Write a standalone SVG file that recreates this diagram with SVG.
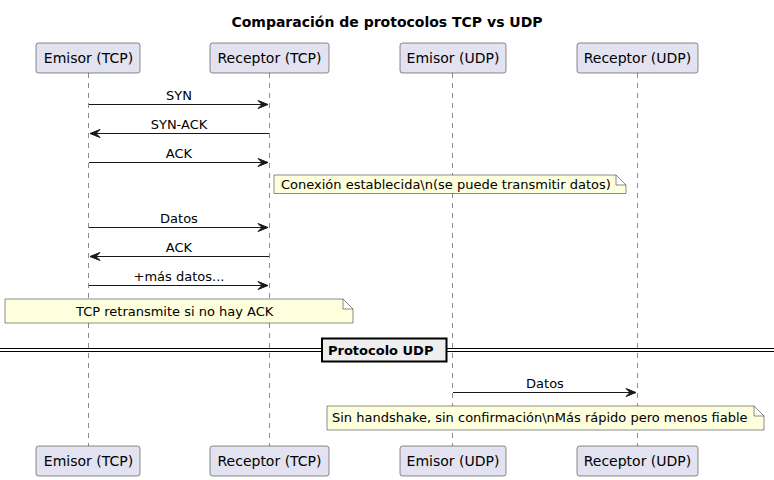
<svg xmlns="http://www.w3.org/2000/svg" width="774" height="480" viewBox="0 0 774 480">
<style>
text{font-family:"DejaVu Sans","Liberation Sans",sans-serif;fill:#000}
.title{font-size:14px;font-weight:bold}
.p rect{fill:#E2E2F0;stroke:#181818;stroke-width:0.5}
.p text{font-size:14px;text-anchor:middle}
.life{stroke:#181818;stroke-width:0.5;stroke-dasharray:5,5;fill:none}
.msg line{stroke:#181818;stroke-width:1}
.msg polygon{fill:#181818;stroke:#181818;stroke-width:1}
.msg text{font-size:13px;text-anchor:middle}
.note path{fill:#FEFFDD;stroke:#181818;stroke-width:0.5}
.note text{font-size:13px}
.div line{stroke:#000;stroke-width:1}
.div rect{fill:#EEEEEE;stroke:#000;stroke-width:2}
.div text{font-size:13px;font-weight:bold}
</style>
<rect width="774" height="480" fill="#FFFFFF"/>
<text class="title" x="387" y="27" text-anchor="middle">Comparación de protocolos TCP vs UDP</text>
<g id="lifelines">
<line class="life" x1="88.5" y1="73" x2="88.5" y2="446"/>
<line class="life" x1="269.5" y1="73" x2="269.5" y2="446"/>
<line class="life" x1="452.5" y1="73" x2="452.5" y2="446"/>
<line class="life" x1="637.5" y1="73" x2="637.5" y2="446"/>
</g>
<g id="emisor_tcp" class="p">
<rect x="36" y="43" width="104" height="30" rx="2.5"/>
<text x="88.5" y="63">Emisor (TCP)</text>
<rect x="36" y="446" width="104" height="30" rx="2.5"/>
<text x="88.5" y="466">Emisor (TCP)</text>
</g>
<g id="receptor_tcp" class="p">
<rect x="210" y="43" width="119" height="30" rx="2.5"/>
<text x="269.5" y="63">Receptor (TCP)</text>
<rect x="210" y="446" width="119" height="30" rx="2.5"/>
<text x="269.5" y="466">Receptor (TCP)</text>
</g>
<g id="emisor_udp" class="p">
<rect x="400" y="43" width="106" height="30" rx="2.5"/>
<text x="453" y="63">Emisor (UDP)</text>
<rect x="400" y="446" width="106" height="30" rx="2.5"/>
<text x="453" y="466">Emisor (UDP)</text>
</g>
<g id="receptor_udp" class="p">
<rect x="577" y="43" width="121" height="30" rx="2.5"/>
<text x="637.5" y="63">Receptor (UDP)</text>
<rect x="577" y="446" width="121" height="30" rx="2.5"/>
<text x="637.5" y="466">Receptor (UDP)</text>
</g>
<g id="connectors" class="msg">
<line x1="89" y1="104.5" x2="268" y2="104.5"/>
<polygon points="258,100.5 268,104.5 258,108.5 262,104.5"/>
<text x="179" y="99.5">SYN</text>
<line x1="90" y1="133.5" x2="269" y2="133.5"/>
<polygon points="100,129.5 90,133.5 100,137.5 96,133.5"/>
<text x="179" y="128.5">SYN-ACK</text>
<line x1="89" y1="162.5" x2="268" y2="162.5"/>
<polygon points="258,158.5 268,162.5 258,166.5 262,162.5"/>
<text x="179" y="157.5">ACK</text>
<line x1="89" y1="227.5" x2="268" y2="227.5"/>
<polygon points="258,223.5 268,227.5 258,231.5 262,227.5"/>
<text x="179" y="222.5">Datos</text>
<line x1="90" y1="256.5" x2="269" y2="256.5"/>
<polygon points="100,252.5 90,256.5 100,260.5 96,256.5"/>
<text x="179" y="251.5">ACK</text>
<line x1="89" y1="285.5" x2="268" y2="285.5"/>
<polygon points="258,281.5 268,285.5 258,289.5 262,285.5"/>
<text x="179" y="280.5">+más datos...</text>
<line x1="453" y1="392.5" x2="636" y2="392.5"/>
<polygon points="626,388.5 636,392.5 626,396.5 630,392.5"/>
<text x="545" y="387.5">Datos</text>
</g>
<g id="note1" class="note">
<path d="M274,175 L616,175 L626,185 L626,193.5 L274,193.5 Z M616,175 L616,185 L626,185"/>
<text x="281" y="189">Conexión establecida\n(se puede transmitir datos)</text>
</g>
<g id="note2" class="note">
<path d="M5,299 L343,299 L353,309 L353,323 L5,323 Z M343,299 L343,309 L353,309"/>
<text x="76" y="316">TCP retransmite si no hay ACK</text>
</g>
<g id="divider" class="div">
<line x1="0" y1="348.5" x2="774" y2="348.5"/>
<line x1="0" y1="351.5" x2="774" y2="351.5"/>
<rect x="322" y="338.5" width="124.5" height="23"/>
<text x="328" y="355">Protocolo UDP</text>
</g>
<g id="note3" class="note">
<path d="M327,406 L754,406 L764,416 L764,430 L327,430 Z M754,406 L754,416 L764,416"/>
<text x="332" y="422">Sin handshake, sin confirmación\nMás rápido pero menos fiable</text>
</g>
</svg>
